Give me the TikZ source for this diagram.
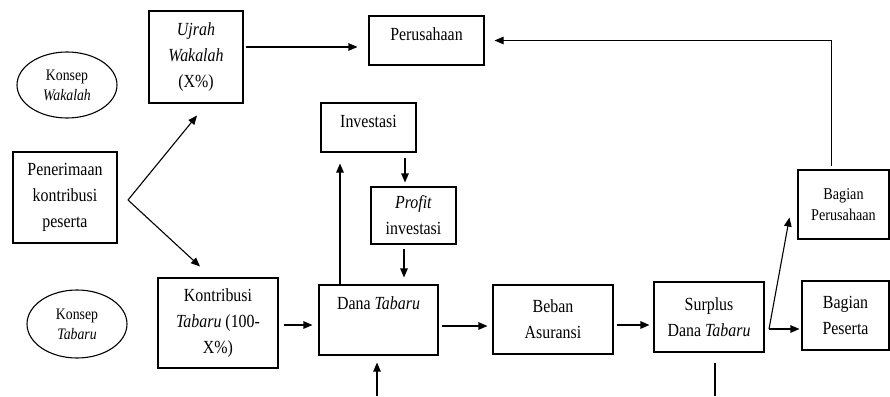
\documentclass[tikz,border=0pt]{standalone}
\usepackage{fontspec}
\setmainfont[FakeStretch=0.86]{Liberation Serif}
\usetikzlibrary{arrows.meta,shapes.geometric}
\newcommand\txtmain{\fontsize{18.5}{26}\selectfont}
\newcommand\txtell{\fontsize{16}{20}\selectfont}
\newcommand\txtbp{\fontsize{16.5}{21}\selectfont}
\begin{document}
\begin{tikzpicture}[x=1pt,y=-1pt,
  box/.style={draw, line width=1.1pt, inner sep=0pt, align=center, font=\txtmain},
  ell/.style={draw, ellipse, line width=1.1pt, inner sep=0pt, align=center, font=\txtell},
  ln/.style={line width=1.1pt},
  arr/.style={line width=1.1pt, -{Triangle[length=9pt,width=7.5pt]}}]
\useasboundingbox (0,0) rectangle (890,396);
% nodes
\node[ell, minimum width=100pt, minimum height=66pt] (wak) at (67,85) {Konsep\\\textit{Wakalah}};
\node[ell, minimum width=100pt, minimum height=68pt] (tab) at (77,324) {Konsep\\\textit{Tabaru}};
\node[box, minimum width=94pt, minimum height=92pt] (ujr) at (196,57) {\textit{Ujrah}\\\textit{Wakalah}\\(X\%)};
\node[box, minimum width=115pt, minimum height=49pt, label={[font=\txtmain, yshift=6.5pt]center:Perusahaan}] (per) at (426.5,40.5) {};
\node[box, minimum width=104pt, minimum height=91pt] (pen) at (65,197.5) {Penerimaan\\kontribusi\\peserta};
\node[box, minimum width=120pt, minimum height=90pt] (kon) at (218,323) {Kontribusi\\\textit{Tabaru} (100-\\X\%)};
\node[box, minimum width=95pt, minimum height=49pt, label={[font=\txtmain, yshift=6pt]center:Investasi}] (inv) at (368.5,127.5) {};
\node[box, minimum width=85pt, minimum height=57pt] (pro) at (413.5,215.5) {\textit{Profit}\\investasi};
\node[box, minimum width=119pt, minimum height=70pt, label={[font=\txtmain, yshift=17pt]center:Dana \textit{Tabaru}}] (dana) at (378.5,320) {};
\node[box, minimum width=120pt, minimum height=69pt] (beb) at (553,319.5) {Beban\\Asuransi};
\node[box, minimum width=110pt, minimum height=70pt] (sur) at (709,317) {Surplus\\Dana \textit{Tabaru}};
\node[box, minimum width=91pt, minimum height=69pt, font=\txtbp] (bper) at (843.5,204.5) {Bagian\\Perusahaan};
\node[box, minimum width=87pt, minimum height=69pt] (bpes) at (845.5,315.5) {Bagian\\Peserta};
% coordinates
\coordinate (split) at (128,200);
\coordinate (fork) at (769,329);
\coordinate (b1) at (377,396);
\coordinate (b2) at (715,396);
% connectors
\draw[arr, shorten <=2pt, shorten >=11pt] ([yshift=10pt]ujr.east) -- ([yshift=10pt]ujr.east -| per.west);
\draw[arr, shorten >=10pt] ([xshift=-12pt,yshift=3pt]bper.north) |- (per.east);
\draw[arr] (split) -- ([xshift=1pt,yshift=-12pt]ujr.south);
\draw[arr] (split) -- ([xshift=-18pt,yshift=11pt]kon.north);
\draw[arr, shorten <=5pt, shorten >=6pt] ([yshift=-2pt]kon.east) -- ([yshift=-2pt]kon.east -| dana.west);
\draw[arr, shorten >=11pt] ([xshift=-38.5pt]dana.north) -- ([xshift=-38.5pt]dana.north |- inv.south);
\draw[arr, shorten <=5pt, shorten >=4pt] ([xshift=-8.5pt]pro.north |- inv.south) -- ([xshift=-8.5pt]pro.north);
\draw[arr, shorten <=4pt, shorten >=7pt] ([xshift=-9.5pt]pro.south) -- ([xshift=-9.5pt]pro.south |- dana.north);
\draw[arr, shorten <=3pt, shorten >=5pt] ([yshift=-6pt]dana.east) -- ([yshift=-6pt]dana.east -| beb.west);
\draw[arr, shorten <=3pt, shorten >=4pt] ([yshift=-5.5pt]beb.east) -- ([yshift=-5.5pt]beb.east -| sur.west);
\draw[arr, shorten >=2pt] (fork) -- (fork -| bpes.west);
\draw[arr] (fork) -- ([xshift=-8pt,yshift=22pt]bper.south west);
\draw[arr, shorten >=7pt] (b1) -- (b1 |- dana.south);
\draw[ln, shorten <=10pt] (b2 |- sur.south) -- (b2);
\end{tikzpicture}
\end{document}
